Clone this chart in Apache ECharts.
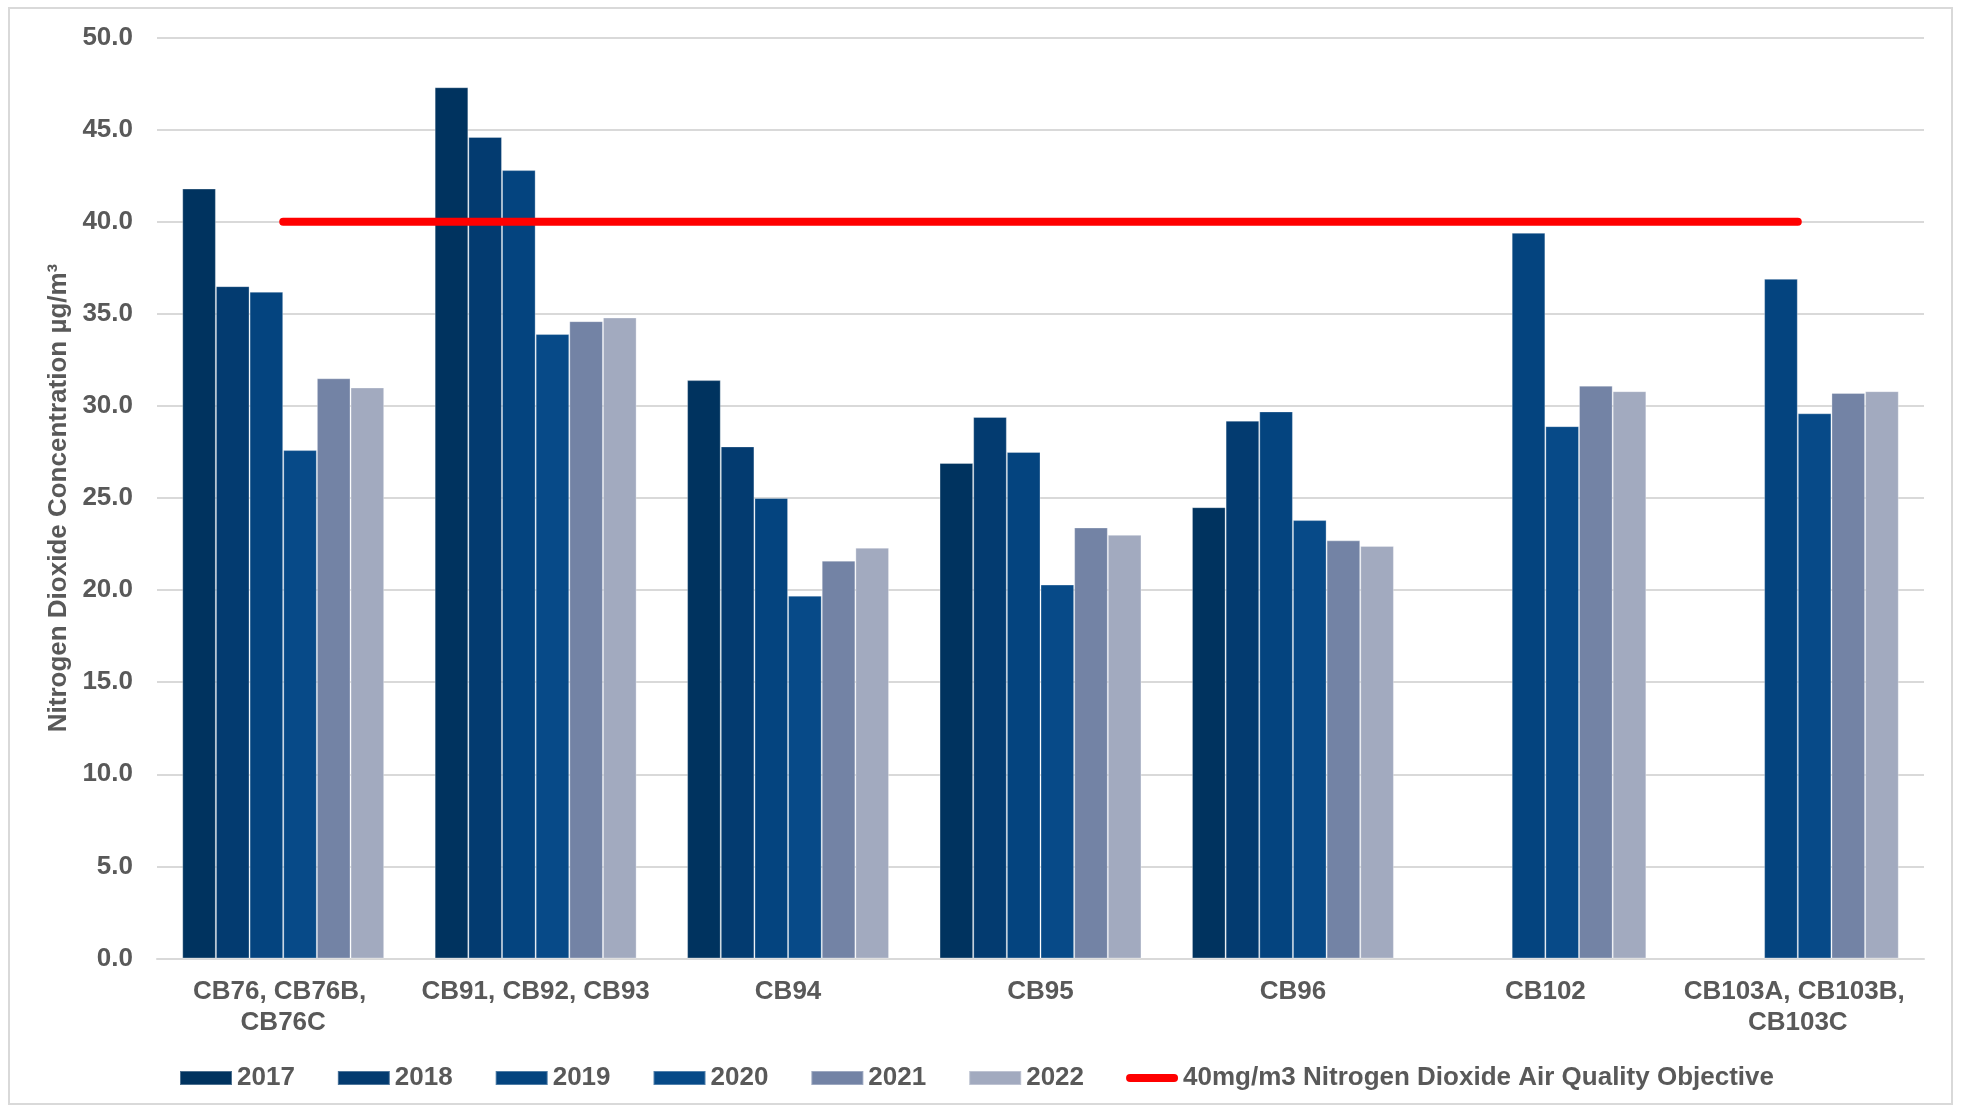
<!DOCTYPE html>
<html>
<head>
<meta charset="utf-8">
<script src="https://cdn.jsdelivr.net/npm/echarts@6/dist/echarts.min.js"></script>
<style>
  html, body { margin: 0; padding: 0; background: #ffffff; }
  #chart { width: 1961px; height: 1108px; }
</style>
</head>
<body>
<div id="chart"></div>
<script>
// Monitoring sites (x-axis categories)
const sites = ['CB76, CB76B, CB76C', 'CB91, CB92, CB93', 'CB94', 'CB95', 'CB96', 'CB102', 'CB103A, CB103B, CB103C'];

// Annual mean NO2 concentrations per site (µg/m³); null where no measurement
const years = ['2017', '2018', '2019', '2020', '2021', '2022'];
const no2_2017 = [41.8, 47.3, 31.4, 26.9, 24.5, null, null];
const no2_2018 = [36.5, 44.6, 27.8, 29.4, 29.2, null, null];
const no2_2019 = [36.2, 42.8, 25.0, 27.5, 29.7, 39.4, 36.9];
const no2_2020 = [27.6, 33.9, 19.7, 20.3, 23.8, 28.9, 29.6];
const no2_2021 = [31.5, 34.6, 21.6, 23.4, 22.7, 31.1, 30.7];
const no2_2022 = [31.0, 34.8, 22.3, 23.0, 22.4, 30.8, 30.8];

// Air quality objective
const objectiveName = '40mg/m3 Nitrogen Dioxide Air Quality Objective';
const objective = [40, 40, 40, 40, 40, 40, 40];

// y-axis range
const yMin = 0, yMax = 50, yStep = 5;

const yearColors = ['#00335F', '#033B70', '#04447F', '#074A88', '#7383A5', '#A2AABF'];
const yearValues = [no2_2017, no2_2018, no2_2019, no2_2020, no2_2021, no2_2022];

const textColor = '#595959';
const fontFamily = '"Liberation Sans", Arial, sans-serif';

const barSeries = years.map((y, i) => ({
  name: y,
  type: 'bar',
  data: yearValues[i],
  barGap: '0%',
  barCategoryGap: '20%',
  itemStyle: {
    color: yearColors[i],
    borderColor: 'rgba(255,255,255,0.3)',
    borderWidth: 1
  },
  emphasis: { disabled: true }
}));

const lineSeries = {
  name: objectiveName,
  type: 'line',
  data: objective,
  showSymbol: false,
  symbol: 'none',
  z: 5,
  lineStyle: { color: '#FF0000', width: 8, cap: 'round' },
  itemStyle: { color: '#FF0000' },
  emphasis: { disabled: true }
};

const chart = echarts.init(document.getElementById('chart'), null, { renderer: 'canvas' });

chart.setOption({
  animation: false,
  backgroundColor: '#ffffff',
  textStyle: { fontFamily: fontFamily },
  graphic: [{
    type: 'rect',
    shape: { x: 9, y: 8, width: 1943, height: 1096 },
    style: { fill: 'none', stroke: '#D9D9D9', lineWidth: 2 },
    silent: true,
    z: -10
  }],
  grid: { left: 157, right: 37, top: 37.5, bottom: 149.5, containLabel: false },
  legend: {
    left: 174,
    top: 1060,
    itemWidth: 52,
    itemHeight: 14,
    itemGap: 42,
    selectedMode: false,
    textStyle: { color: textColor, fontSize: 26, fontWeight: 'bold', fontFamily: fontFamily },
    data: years.map(y => ({ name: y, icon: 'rect' })).concat([{
      name: objectiveName,
      icon: 'path://M4,0 L48,0 A4,4 0 0 1 48,8 L4,8 A4,4 0 0 1 4,0 Z',
      itemStyle: { color: '#FF0000' }
    }])
  },
  xAxis: {
    type: 'category',
    data: sites,
    axisTick: { show: false },
    axisLine: { show: true, lineStyle: { color: '#D9D9D9', width: 2 } },
    axisLabel: {
      interval: 0,
      margin: 18,
      color: textColor,
      fontSize: 26,
      fontWeight: 'bold',
      fontFamily: fontFamily,
      lineHeight: 31,
      width: 248,
      overflow: 'break',
      align: 'center'
    }
  },
  yAxis: {
    type: 'value',
    min: yMin,
    max: yMax,
    interval: yStep,
    name: 'Nitrogen Dioxide Concentration µg/m³',
    nameLocation: 'middle',
    nameGap: 83,
    nameTextStyle: { color: textColor, fontSize: 26, fontWeight: 'bold', fontFamily: fontFamily },
    axisLine: { show: false },
    axisTick: { show: false },
    axisLabel: {
      margin: 24,
      color: textColor,
      fontSize: 26,
      fontWeight: 'bold',
      fontFamily: fontFamily,
      formatter: v => v.toFixed(1)
    },
    splitLine: { lineStyle: { color: '#D9D9D9', width: 2 } }
  },
  series: barSeries.concat([lineSeries])
});
</script>
</body>
</html>
